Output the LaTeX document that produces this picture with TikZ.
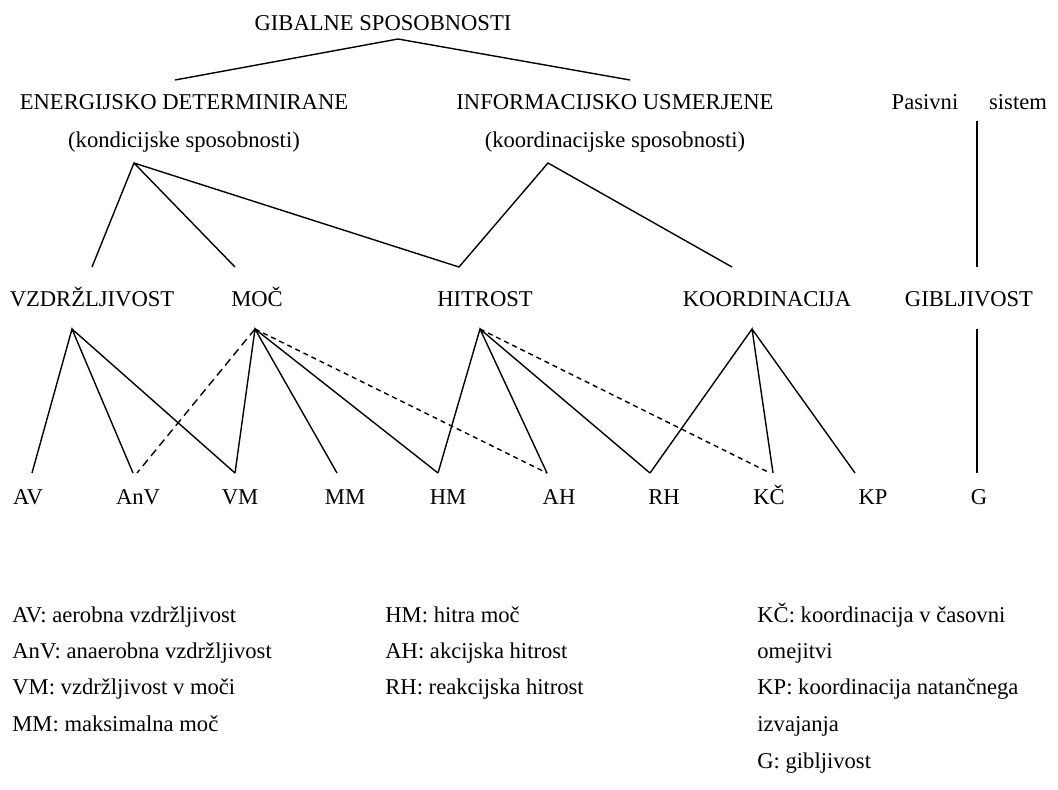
\documentclass[tikz,border=0pt]{standalone}
\usepackage{fontspec}
\setmainfont{Liberation Serif}

\begin{document}
\begin{tikzpicture}[x=0.5pt,y=-0.5pt,font=\fontsize{11.3}{13}\selectfont,
  lbl/.style={inner sep=0pt,anchor=base},
  key/.style={inner sep=0pt,anchor=base west},
  link/.style={line width=0.7pt},
  longdash/.style={link,dash pattern=on 4pt off 2.5pt},
  shortdash/.style={link,dash pattern=on 2.5pt off 2pt}]
  \useasboundingbox (0,0) rectangle (1058,789);

  % levels of the tree
  \node[lbl] (gib) at (383,30) {GIBALNE SPOSOBNOSTI};
  \node[lbl] (en)  at (184,109) {ENERGIJSKO DETERMINIRANE};
  \node[lbl] (enk) at (184,147) {(kondicijske sposobnosti)};
  \node[lbl] (in)  at (615,109) {INFORMACIJSKO USMERJENE};
  \node[lbl] (ink) at (615,147) {(koordinacijske sposobnosti)};
  \node[lbl] (pas) at (925,109) {Pasivni};
  \node[lbl] (sis) at (1018,109) {sistem};

  \node[lbl] (vz)  at (92,306)  {VZDRŽLJIVOST};
  \node[lbl] (moc) at (257,306) {MOČ};
  \node[lbl] (hit) at (485,306) {HITROST};
  \node[lbl] (koo) at (767,306) {KOORDINACIJA};
  \node[lbl] (gbl) at (969,306) {GIBLJIVOST};

  \node[lbl] (av)  at (28,504)  {AV};
  \node[lbl] (anv) at (138,504) {AnV};
  \node[lbl] (vm)  at (240,504) {VM};
  \node[lbl] (mm)  at (345,504) {MM};
  \node[lbl] (hm)  at (448,504) {HM};
  \node[lbl] (ah)  at (559,504) {AH};
  \node[lbl] (rh)  at (664,504) {RH};
  \node[lbl] (kc)  at (769,504) {KČ};
  \node[lbl] (kp)  at (873,504) {KP};
  \node[lbl] (g)   at (979,504) {G};

  % connector ends
  \coordinate (gib_b) at (398,39);
  \coordinate (en_t)  at (175,80);
  \coordinate (in_t)  at (630,80);
  \coordinate (en_b)  at (134,163);
  \coordinate (in_b)  at (548,163);
  \coordinate (pas_b) at (977,121);

  \coordinate (vz_t)  at (92,267);
  \coordinate (moc_t) at (235,267);
  \coordinate (hit_t) at (459,267);
  \coordinate (koo_t) at (732,267);
  \coordinate (gbl_t) at (977,267);
  \coordinate (vz_b)  at (72,329);
  \coordinate (moc_b) at (255,329);
  \coordinate (hit_b) at (480,329);
  \coordinate (koo_b) at (752,329);
  \coordinate (gbl_b) at (977,329);

  \coordinate (av_t)  at (32,473);
  \coordinate (anv_t) at (133,473);
  \coordinate (anv_d) at (137,473);
  \coordinate (vm_t)  at (235,473);
  \coordinate (mm_t)  at (337,473);
  \coordinate (hm_t)  at (438,473);
  \coordinate (ah_t)  at (547,473);
  \coordinate (rh_t)  at (650,473);
  \coordinate (kc_t)  at (773,473);
  \coordinate (kc_d)  at (770,473);
  \coordinate (kp_t)  at (855,473);
  \coordinate (g_t)   at (977,473);

  \draw[link] (en_t) -- (gib_b) -- (in_t);
  \draw[link] (pas_b) -- (gbl_t);
  \draw[link] (vz_t) -- (en_b) -- (moc_t)
              (en_b) -- (hit_t) -- (in_b) -- (koo_t);

  \draw[link] (av_t) -- (vz_b) -- (anv_t) (vz_b) -- (vm_t);
  \draw[link] (vm_t) -- (moc_b) -- (mm_t) (moc_b) -- (hm_t);
  \draw[longdash] (moc_b) -- (anv_d);
  \draw[shortdash] (moc_b) -- (ah_t);
  \draw[link] (hm_t) -- (hit_b) -- (ah_t) (hit_b) -- (rh_t);
  \draw[shortdash] (hit_b) -- (kc_d);
  \draw[link] (rh_t) -- (koo_b) -- (kc_t) (koo_b) -- (kp_t);
  \draw[link] (gbl_b) -- (g_t);

  % legend
  \node[key] (l1) at (12,622) {AV: aerobna vzdržljivost};
  \node[key] (l2) at (12,658) {AnV: anaerobna vzdržljivost};
  \node[key] (l3) at (12,694) {VM: vzdržljivost v moči};
  \node[key] (l4) at (12,731) {MM: maksimalna moč};
  \node[key] (l5) at (385,622) {HM: hitra moč};
  \node[key] (l6) at (385,658) {AH: akcijska hitrost};
  \node[key] (l7) at (385,694) {RH: reakcijska hitrost};
  \node[key] (l8) at (757,622) {KČ: koordinacija v časovni};
  \node[key] (l9) at (757,658) {omejitvi};
  \node[key] (l10) at (757,694) {KP: koordinacija natančnega};
  \node[key] (l11) at (757,731) {izvajanja};
  \node[key] (l12) at (757,768) {G: gibljivost};
\end{tikzpicture}
\end{document}
